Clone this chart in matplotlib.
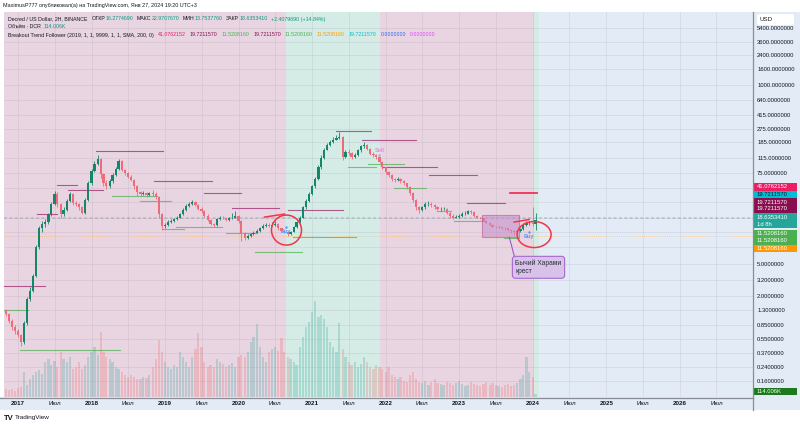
import numpy as np
import pandas as pd
import matplotlib
matplotlib.use("Agg")
import matplotlib.pyplot as plt
import matplotlib.dates as mdates
import matplotlib.transforms as mtransforms
from matplotlib.patches import Ellipse, Rectangle, FancyBboxPatch
from matplotlib.lines import Line2D
from matplotlib.ticker import NullLocator

plt.rcParams['font.family'] = ['Liberation Sans', 'DejaVu Sans']

# half-month candles, DCR/USD
dates = pd.date_range("2016-11-01", "2024-01-16", freq="SMS")
close = [1.16, 0.95, 0.78, 0.70, 0.62, 0.50, 0.90, 1.8, 2.3, 3.6,
         8.5, 14.5, 16.5, 17.5, 22, 30, 40, 30, 22, 25,
         33, 40, 31, 30, 27, 23, 34, 55, 80, 98,
         112, 72, 56, 50, 58, 70, 85, 105, 82, 74,
         67, 61, 50, 42, 40, 41, 39, 41, 40, 37,
         22, 15.5, 16, 17.5, 18, 19, 20, 22, 25, 28,
         30, 32, 29, 26, 24, 21, 18.5, 16.5, 16, 19,
         20, 19.5, 18.5, 19.5, 20, 21, 18, 12.5, 11, 11.7,
         12.3, 12.8, 13.5, 14.5, 15.4, 16, 15.8, 16.2, 16.5, 14.5,
         13.4, 12.9, 12.4, 13.2, 15, 17.5, 20, 27, 33, 40,
         50, 62, 88, 115, 148, 170, 185, 200, 210, 215,
         120, 137, 133, 120, 128, 145, 165, 172, 152, 132,
         127, 118, 104, 88, 77, 71, 62, 60, 63, 59,
         55, 49, 41, 34, 27, 25, 27, 30, 30, 29,
         27, 26, 26, 26, 23, 21, 20, 20.5, 21, 22,
         22.5, 24, 23.5, 21, 20, 19.5, 18.2, 17, 16, 15.3,
         15, 15, 14.8, 14.5, 13.8, 13.4, 13, 13.5, 14.2, 16.2,
         16.8, 17, 16.28, 18.635341]
high = [1.35, 1.2, 1.0, .85, .75, .65, .95, 1.9, 2.6, 3.8,
        9, 15.5, 18, 19, 23, 32, 44, 42, 31, 27,
        35, 43, 41, 33, 31, 28, 36, 58, 85, 105,
        125, 115, 75, 60, 62, 74, 90, 112, 108, 85,
        77, 70, 63, 52, 44, 44, 43, 43, 45, 42,
        38, 23, 17, 18.5, 19, 20, 21, 23, 26.5, 29.5,
        31.5, 34, 33, 30, 27, 25, 22, 19, 17, 19.5,
        21, 21, 20, 20.5, 23, 24, 21.5, 18.5, 13, 12.3,
        12.8, 13.3, 14.2, 15, 16.4, 17, 16.8, 17.5, 17.8, 16.9,
        14.8, 13.7, 13.2, 13.6, 15.5, 18, 21, 28, 35, 43,
        53, 66, 95, 125, 158, 182, 200, 215, 230, 250,
        220, 145, 150, 138, 135, 150, 172, 185, 175, 156,
        138, 130, 121, 106, 90, 80, 73, 65, 66, 65,
        61, 56, 50, 42, 35, 28, 28, 32, 33, 32,
        30, 28, 27.5, 27.5, 26.5, 23.5, 22, 21.5, 22, 23.5,
        24.5, 25, 25, 24, 21.5, 20.5, 20, 18.5, 17.3, 16.3,
        15.8, 15.6, 15.3, 15.2, 14.8, 14, 13.8, 14, 14.8, 16.8,
        17.8, 18, 27, 22.970767]
low = [1.1, .9, .72, .65, .58, .45, .48, .85, 1.7, 2.2,
       3.5, 8, 13, 15, 16.5, 21, 29, 27, 20, 21,
       24, 32, 29, 28, 25, 22, 22, 33, 52, 76,
       95, 65, 50, 46, 48, 56, 68, 82, 78, 70,
       64, 58, 47, 38, 38, 39, 37, 38, 38, 35,
       20, 14, 14.5, 15.5, 16.8, 17.5, 18.5, 19.5, 21.5, 24,
       27, 29, 28, 25, 23, 20.5, 18, 16, 15.2, 15.8,
       18.5, 19, 18, 18, 19, 19.5, 17, 10, 10.2, 10.6,
       11.4, 12, 12.5, 13.2, 14.2, 15, 15.2, 15.5, 15.8, 14,
       13, 12.5, 11.5, 12, 13, 14.8, 17.2, 19.5, 26, 32,
       39, 48, 60, 85, 112, 145, 165, 180, 195, 205,
       110, 115, 125, 112, 115, 124, 140, 158, 145, 126,
       120, 112, 100, 84, 72, 66, 58, 57, 58, 56,
       52, 46, 39, 32, 25, 23, 24, 26, 28, 27,
       26, 25, 24.5, 25, 22, 20, 19, 19.5, 20, 20.5,
       21.5, 22, 22.5, 20.5, 19.5, 19, 17.8, 16.5, 15.5, 15,
       14.5, 14.6, 14.3, 14, 13.3, 12.8, 12, 12.6, 13.2, 14,
       15.8, 16.2, 15.5, 13.753776]
first_open = 1.3
volume_k = [320, 280, 320, 240, 360, 400, 1000, 480, 720, 880,
            1000, 1080, 920, 1400, 1520, 1280, 1440, 1200, 1800, 1520,
            1400, 1600, 1120, 1200, 1400, 1120, 1280, 1600, 1800, 2000,
            1680, 2600, 1800, 1600, 1520, 1400, 1200, 1120, 1000, 880,
            800, 880, 800, 720, 720, 800, 760, 880, 1200, 1520,
            2280, 1800, 1400, 1200, 1120, 1280, 1200, 1800, 1600, 1400,
            1200, 1600, 1920, 2560, 2000, 1400, 1200, 1280, 1200, 1520,
            1400, 1320, 1200, 1280, 1360, 1200, 1600, 1680, 1600, 1800,
            2200, 2400, 2920, 2000, 1600, 1400, 1800, 1920, 2000, 1840,
            2360, 1800, 1600, 1520, 1400, 1280, 2000, 2400, 2800, 3000,
            3400, 3840, 3200, 3280, 3120, 2800, 2200, 2000, 1800, 2960,
            1920, 1600, 1400, 1280, 1400, 1200, 1320, 1600, 1400, 1200,
            1120, 1280, 1200, 1120, 1000, 1200, 880, 800, 720, 800,
            640, 600, 880, 1000, 720, 600, 560, 640, 480, 600,
            720, 560, 520, 480, 600, 560, 480, 560, 640, 520,
            440, 480, 600, 520, 480, 440, 520, 600, 480, 560,
            480, 440, 400, 480, 520, 440, 480, 560, 720, 880,
            1600, 1000, 800, 114.006]

# breakout trend follower levels: (start index, end index, price)
res_start = [-0.5, 10.2, 16.7, 20.3, 29.4, 48.3, 64.6, 73.7, 92, 107.6, 116.4, 122.9, 138.2, 150.6]
res_end = [12.8, 16.7, 23.2, 31.7, 51.2, 67.2, 76.6, 89, 110, 119.3, 134, 140.8, 153.8, 163]
res_price = [2.67, 22.2, 52, 45, 143, 59, 41, 26.5, 25, 257, 197, 89, 70, 30.7]
sup_start = [-0.5, 4.7, 34.6, 43.7, 51.2, 55.5, 72, 81.2, 93.6, 111.8, 118.3, 126.8, 140.8, 146.4, 162.6]
sup_end = [7.3, 37.2, 49.3, 53.8, 58.1, 70.5, 81.9, 96.5, 114.4, 120.9, 130, 137.2, 145.4, 156.1, 167.5]
sup_price = [1.3, 0.4, 37.7, 32.6, 14.3, 15.1, 12.7, 7.2, 11.2, 89, 97, 48, 24.3, 18.3, 10.9]

level_top = 41.0762152
level_mid = 19.7211570
level_low = 11.5208160

bg_pink = '#e8d5e1'
bg_green = '#d5ece6'
bg_blue = '#e3ebf6'
up_col = '#14866a'
dn_col = '#ee6b79'
txt = '#131722'
green_txt = '#089981'

fig = plt.figure(figsize=(8, 4.25), dpi=100)
fig.patch.set_facecolor('white')


def fx(px):
    return px / 800


def fy(py):
    return 1 - py / 425


x = mdates.date2num(dates)
step = 365.25 / 24


def ix(i):
    return x[0] + i * step


opens = [first_open] + close[:-1]
o = np.array(opens)
c = np.array(close)
up = c >= o

# strips behind axes
fig.patches.append(Rectangle((fx(753), fy(410)), fx(47), 398 / 425, transform=fig.transFigure,
                             facecolor=bg_blue, edgecolor='none', zorder=-1))
fig.patches.append(Rectangle((0, fy(410)), fx(753), 13 / 425, transform=fig.transFigure,
                             facecolor=bg_blue, edgecolor='none', zorder=-1))

ax = fig.add_axes([fx(4), 28 / 425, 749 / 800, 385 / 425])
vax = ax.twinx()
ax.set_zorder(2)
vax.set_zorder(1)
ax.patch.set_visible(False)
vax.patch.set_visible(True)
vax.patch.set_facecolor(bg_blue)

x_left = mdates.date2num(pd.Timestamp("2016-10-23"))
x_right = mdates.date2num(pd.Timestamp("2026-12-30"))
ax.set_xlim(x_left, x_right)
ax.set_yscale('log')
ax.set_ylim(0.1, 8630)

# background colouring of the indicator
vax.axvspan(x_left, mdates.date2num(pd.Timestamp("2020-08-22")), color=bg_pink, lw=0)
vax.axvspan(mdates.date2num(pd.Timestamp("2020-08-22")), mdates.date2num(pd.Timestamp("2021-12-01")), color=bg_green, lw=0)
vax.axvspan(mdates.date2num(pd.Timestamp("2021-12-01")), mdates.date2num(pd.Timestamp("2024-01-06")), color=bg_pink, lw=0)
vax.axvspan(mdates.date2num(pd.Timestamp("2024-01-06")), mdates.date2num(pd.Timestamp("2024-01-30")), color=bg_green, lw=0)

# volume
vax.bar(x[up], np.array(volume_k)[up], width=11, color='#26a69a', alpha=0.25, lw=0)
vax.bar(x[~up], np.array(volume_k)[~up], width=11, color='#ef5350', alpha=0.22, lw=0)
vax.set_ylim(0, 15400)
vax.set_yticks([])

# grid
ticks_y = [5400, 3600, 2400, 1600, 1000, 640, 415, 275, 185, 115, 75, 48, 32, 20, 13, 8.5,
           5.0, 3.2, 2.0, 1.3, 0.85, 0.55, 0.37, 0.24, 0.16]
hidden = {48, 32, 20, 13, 8.5}
ax.set_yticks(ticks_y)
ax.set_yticklabels(['' if t in hidden else '%.7f' % t for t in ticks_y])
ax.yaxis.set_minor_locator(NullLocator())
ax.yaxis.tick_right()

tick_dates = []
tick_labels = []
for yr in range(2017, 2027):
    tick_dates += [mdates.date2num(pd.Timestamp(f"{yr}-01-01")), mdates.date2num(pd.Timestamp(f"{yr}-07-01"))]
    tick_labels += [str(yr), 'Июл']
ax.set_xticks(tick_dates)
ax.set_xticklabels(tick_labels)
for lab in ax.get_xticklabels():
    if lab.get_text() != 'Июл':
        lab.set_fontweight('bold')
ax.tick_params(axis='both', length=0, colors=txt)
ax.tick_params(axis='y', pad=3, labelsize=4.2)
ax.tick_params(axis='x', pad=3.2, labelsize=4.5)
ax.grid(True, color='#8a8090', alpha=0.16, lw=0.6)
for a in (ax, vax):
    for s in a.spines.values():
        s.set_visible(False)

# horizontal indicator lines
ax.axhline(level_mid, color='#8fa3b5', lw=1.1, ls=(0, (2, 1.5)), alpha=0.55, zorder=1)
ax.axhline(level_low, color='#ff9800', lw=0.6, ls=(0, (1, 1.5)), alpha=0.45, zorder=1)

# breakout lines
for s, e, p in zip(res_start, res_end, res_price):
    ax.plot([ix(s), ix(e)], [p, p], color='#9c2a6e', lw=0.8, alpha=0.75, zorder=2)
for s, e, p in zip(sup_start, sup_end, sup_price):
    ax.plot([ix(s), ix(e)], [p, p], color='#4caf50', lw=0.8, alpha=0.7, zorder=2)
ax.plot([ix(164.6), ix(173.2)], [level_top, level_top], color='#f0325a', lw=1.3, zorder=3)

# candles
cols = np.where(up, up_col, dn_col)
ax.vlines(x, low, high, colors=cols, lw=0.6, zorder=3)
ax.bar(x, np.abs(c - o), bottom=np.minimum(o, c), width=11, color=cols, lw=0, zorder=4)

# pattern box
ax.add_patch(Rectangle((ix(155.5), 11.2), ix(167.5) - ix(155.5), 21.5 - 11.2,
                       facecolor='#c48ccc', edgecolor='#b5508f', alpha=0.55, lw=0.8, zorder=5))

# signals
ax.text(ix(91.4), 13.2, 'Buy', color='#5b9cf6', fontsize=4, ha='center', va='center', fontweight='bold', zorder=6)
ax.text(ix(170.8), 11.3, 'Buy', color='#5b9cf6', fontsize=4, ha='center', va='center', fontweight='bold', zorder=6)
ax.text(ix(121.9), 143, 'Sell', color='#e38ae3', fontsize=4, ha='center', va='center', fontweight='bold', zorder=6)
ax.plot([ix(91.4), ix(170.8)], [15.2, 13.0], '.', color='#5b9cf6', ms=1.5, zorder=6)
ax.plot([ix(121.9)], [127], '.', color='#e38ae3', ms=1.5, zorder=6)

# hand drawn circles
for cx, cy, w, h, tail in [(91.6, 13.8, 0.30, 0.30, ((-0.22, 0.13), (-0.02, 0.16))),
                           (172.4, 12.1, 0.34, 0.26, ((-0.20, 0.125), (-0.05, 0.15)))]:
    tr = fig.dpi_scale_trans + mtransforms.ScaledTranslation(ix(cx), cy, ax.transData)
    ax.add_patch(Ellipse((0, 0), w, h, transform=tr, fill=False, edgecolor='#f23645', lw=1.1, zorder=7))
    ax.add_line(Line2D([tail[0][0], tail[1][0]], [tail[0][1], tail[1][1]], transform=tr,
                       color='#f23645', lw=1.1, zorder=7))

# callout
ax.plot([ix(164.3), ix(166.0)], [11.2, 6.3], color='#9b59c6', lw=0.8, zorder=6)
ax.text(ix(166.3), 4.6, 'Бычий Харами\nкрест', fontsize=4.8, color='#2a2e39', ha='left', va='center',
        linespacing=1.3, zorder=8,
        bbox=dict(boxstyle='round,pad=0.45', fc='#d9c2ea', ec='#a569d0', lw=0.8))

# separators
fig.add_artist(Line2D([fx(753), fx(753)], [fy(12), fy(410)], color='#8a8d96', lw=0.9))
fig.add_artist(Line2D([0, fx(753)], [fy(397.5), fy(397.5)], color='#8a8d96', lw=0.9))

# right axis boxes
boxes = [(187, '41.0762152', '#e91e63', 'white'),
         (194.5, '19.7211570', '#00bcd4', '#131722'),
         (202, '19.7211570', '#880e4f', 'white'),
         (209, '19.7211570', '#880e4f', 'white'),
         (234, '11.5208160', '#4caf50', 'white'),
         (241, '11.5208160', '#4caf50', 'white'),
         (248.5, '11.5208160', '#ff9800', 'white'),
         (391.5, '114.006K', '#1b7a1b', 'white')]
for yc, s, bg, fg in boxes:
    fig.patches.append(Rectangle((fx(754), fy(yc + 3.6)), fx(43), 7.2 / 425, transform=fig.transFigure,
                                 facecolor=bg, edgecolor='none', zorder=1))
    fig.text(fx(757), fy(yc), s, color=fg, fontsize=4.2, va='center', ha='left')
fig.patches.append(Rectangle((fx(754), fy(228.5)), fx(43), 15 / 425, transform=fig.transFigure,
                             facecolor='#26a69a', edgecolor='none', zorder=1))
fig.text(fx(757), fy(217.5), '18.6353410', color='white', fontsize=4.2, va='center')
fig.text(fx(757), fy(224.5), '1d 8h', color='white', fontsize=4.2, va='center')

fig.patches.append(FancyBboxPatch((fx(757), fy(25)), fx(37), 11 / 425, boxstyle='round,pad=0,rounding_size=0.004',
                                  transform=fig.transFigure, facecolor='white', edgecolor='none', zorder=1))
fig.text(fx(760), fy(19.5), 'USD', color=txt, fontsize=4.4, va='center')

# header texts
fig.text(fx(3), fy(6), 'MaximusP777 опубликовал(а) на TradingView.com, Янв 27, 2024 19:20 UTC+3',
         color=txt, fontsize=3.9, va='center')
renderer = fig.canvas.get_renderer()


def flow(pieces, x0, y0):
    xp = x0
    for s, col, gap in pieces:
        t = fig.text(fx(xp), fy(y0), s, color=col, fontsize=3.75, va='center', ha='left')
        xp = t.get_window_extent(renderer).x1 + gap


flow([('Decred / US Dollar, 2H, BINANCE', txt, 4),
      ('ОТКР', txt, 0.3), ('16.2774690', green_txt, 3.5),
      ('МАКС', txt, 0.3), ('22.9707670', green_txt, 3.5),
      ('МИН', txt, 0.3), ('13.7537760', green_txt, 3.5),
      ('ЗАКР', txt, 0.3), ('18.6353410', green_txt, 3),
      ('+2.4079690 (+14.84%)', green_txt, 0)], 8, 19)
flow([('Объём · DCR', txt, 3), ('114.006K', green_txt, 0)], 8, 27)
flow([('Breakout Trend Follower (2019, 1, 1, 9999, 1, 1, SMA, 200, 0)', txt, 4),
      ('41.0762152', '#e91e63', 4), ('19.7211570', '#880e4f', 4),
      ('11.5208160', '#4caf50', 4), ('19.7211570', '#880e4f', 4),
      ('11.5208160', '#4caf50', 4), ('11.5208160', '#ff9800', 4),
      ('19.7211570', '#00bcd4', 4), ('0.0000000', '#2962ff', 4),
      ('0.0000000', '#e040fb', 0)], 8, 35)

fig.text(fx(4), fy(418), 'TV', color=txt, fontsize=5.5, fontweight='bold', va='center')
fig.text(fx(15), fy(418), 'TradingView', color=txt, fontsize=4.6, va='center')

fig.savefig('out.png', dpi=100)
